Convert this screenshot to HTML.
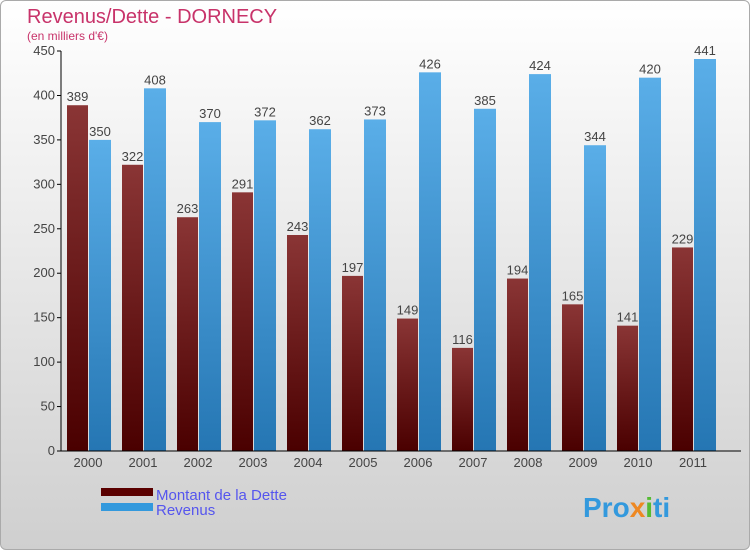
<!DOCTYPE html>
<html><head><meta charset="utf-8"><style>
body{margin:0}
#c{position:relative;width:748px;height:548px;border:1px solid #aaa;border-radius:6px;overflow:hidden;background:linear-gradient(#ffffff,#cfcfcf);font-family:"Liberation Sans","DejaVu Sans",sans-serif}
</style></head><body>
<div id="c">
<svg width="748" height="548" id="svg">
<defs>
<linearGradient id="gd" x1="0" y1="0" x2="0" y2="1"><stop offset="0" stop-color="#8a3535"/><stop offset="1" stop-color="#4a0000"/></linearGradient>
<linearGradient id="gr" x1="0" y1="0" x2="0" y2="1"><stop offset="0" stop-color="#5aaee8"/><stop offset="1" stop-color="#2576b3"/></linearGradient>
</defs>
<text x="26" y="22" font-size="20" fill="#c8336a">Revenus/Dette - DORNECY</text>
<text x="26" y="39" font-size="12" fill="#c8336a">(en milliers d'€)</text>
<g id="plot"></g>
<rect x="100" y="487" width="52" height="8" fill="#5a0000"/>
<rect x="100" y="502" width="52" height="8" fill="#3399dd"/>
<text x="155" y="499" font-size="15" fill="#5555ee">Montant de la Dette</text>
<text x="155" y="514" font-size="15" fill="#5555ee">Revenus</text>
<text x="582" y="516" font-size="28" font-weight="bold" fill="#3399dd">Pro<tspan fill="#ee8822">x</tspan><tspan fill="#55bb33">i</tspan>ti</text>
</svg>
</div>
<script>
const years=["2000","2001","2002","2003","2004","2005","2006","2007","2008","2009","2010","2011"];
const dette=[389,322,263,291,243,197,149,116,194,165,141,229];
const revenus=[350,408,370,372,362,373,426,385,424,344,420,441];
const ticks=[0,50,100,150,200,250,300,350,400,450];
const NS="http://www.w3.org/2000/svg";
const g=document.getElementById('plot');
const y0=450,yTop=50,max=450;
function Y(v){return y0-(v/max)*(y0-yTop);}
function X(i){return 66+55*i;}
function mk(t,a,p){const e=document.createElementNS(NS,t);for(const k in a)e.setAttribute(k,a[k]);(p||g).appendChild(e);return e;}
ticks.forEach(t=>{
 const tl=mk('line',{x1:56,x2:60,y1:Y(t),y2:Y(t),stroke:'#000'});
 
 
 const tx=mk('text',{x:54,y:Y(t)+4,'text-anchor':'end','font-size':13,fill:'#444'});
 tx.textContent=t;
 
 
});
years.forEach((yr,i)=>{
 const x=X(i);
 const b1=mk('rect',{x:x,y:Y(dette[i]),width:21,height:y0-Y(dette[i]),fill:'url(#gd)'});
 
 
 const b2=mk('rect',{x:x+22,y:Y(revenus[i]),width:22,height:y0-Y(revenus[i]),fill:'url(#gr)'});
 
 
 const l1=mk('text',{x:x+10.5,y:Y(dette[i])-4,'text-anchor':'middle','font-size':13,fill:'#444'});
 l1.textContent=dette[i];
 
 
 const l2=mk('text',{x:x+33,y:Y(revenus[i])-4,'text-anchor':'middle','font-size':13,fill:'#444'});
 l2.textContent=revenus[i];
 
 
 const xl=mk('text',{x:x+21,y:466,'text-anchor':'middle','font-size':13,fill:'#444'});
 xl.textContent=yr;
 
 
});
const ya=mk('line',{x1:60,x2:60,y1:50,y2:450,stroke:'#000'});


const xa=mk('line',{x1:60,x2:740,y1:450,y2:450,stroke:'#000'});


</script>
</body></html>
